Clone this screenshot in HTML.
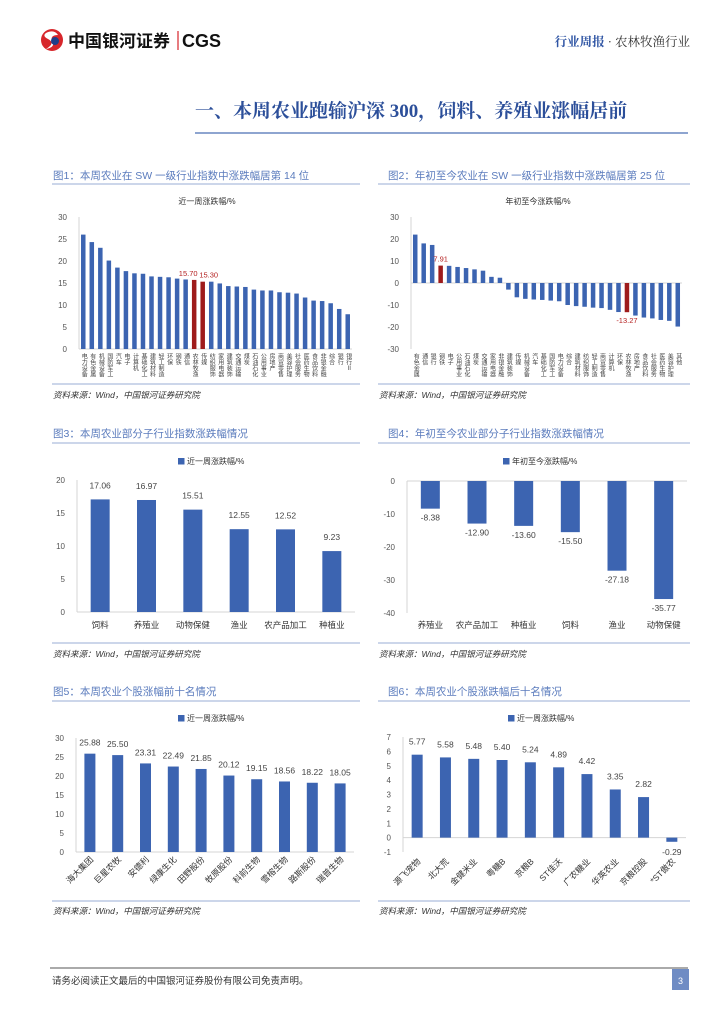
<!DOCTYPE html>
<html><head><meta charset="utf-8">
<style>
html,body{margin:0;padding:0;background:#fff;}
svg{display:block;font-family:"Liberation Sans","Noto Sans CJK SC",sans-serif;}
.cap{font-size:10.5px;fill:#5a7bbd;}
.src{font-size:8.5px;fill:#333;font-style:italic;}
.tk{font-size:8px;fill:#555;}
</style></head>
<body>
<svg id="page" width="724" height="1024" viewBox="0 0 724 1024" xmlns="http://www.w3.org/2000/svg">
  <g>
    <g>
      <circle cx="52" cy="40" r="11" fill="#d7262b"/>
      <path d="M46 33 q8 -4 12 2 q-8 0 -6 6 q4 6 -6 8 q10 -6 2 -10 q-6 -3 -2 -6z" fill="#fff"/>
      <circle cx="55" cy="41" r="4" fill="#1f3f8a"/>
      <text x="68" y="47" font-size="17" font-weight="bold" fill="#111">中国银河证券</text>
      <line x1="178" y1="31" x2="178" y2="50" stroke="#d7262b" stroke-width="1.2"/>
      <text x="182" y="47" font-size="18" font-weight="bold" fill="#111">CGS</text>
    </g>
    <text x="690" y="46" text-anchor="end" font-size="12.5" font-family="Liberation Serif,Noto Serif CJK SC,serif"><tspan fill="#2f55a4" font-weight="bold">行业周报</tspan><tspan fill="#333"> · 农林牧渔行业</tspan></text>
    <text x="195" y="117" font-size="19" font-weight="bold" fill="#2c4f9a" font-family="Liberation Serif,Noto Serif CJK SC,serif">一、本周农业跑输沪深 300，饲料、养殖业涨幅居前</text>
    <line x1="195" y1="133" x2="688" y2="133" stroke="#4a6fb5" stroke-width="1.2"/>
  </g>

  <text class="cap" x="53" y="179">图1：本周农业在 SW 一级行业指数中涨跌幅居第 14 位</text>
  <line x1="52" y1="184" x2="360" y2="184" stroke="#9aaed6" stroke-width="1"/>
  <text class="cap" x="388" y="179">图2：年初至今农业在 SW 一级行业指数中涨跌幅居第 25 位</text>
  <line x1="378" y1="184" x2="690" y2="184" stroke="#9aaed6" stroke-width="1"/>
  <line x1="52" y1="384" x2="360" y2="384" stroke="#9aaed6" stroke-width="1"/>
  <line x1="378" y1="384" x2="690" y2="384" stroke="#9aaed6" stroke-width="1"/>
  <text class="src" x="53" y="398">资料来源：Wind，中国银河证券研究院</text>
  <text class="src" x="379" y="398">资料来源：Wind，中国银河证券研究院</text>

  <text class="cap" x="53" y="437">图3：本周农业部分子行业指数涨跌幅情况</text>
  <line x1="52" y1="443" x2="360" y2="443" stroke="#9aaed6" stroke-width="1"/>
  <text class="cap" x="388" y="437">图4：年初至今农业部分子行业指数涨跌幅情况</text>
  <line x1="378" y1="443" x2="690" y2="443" stroke="#9aaed6" stroke-width="1"/>
  <line x1="52" y1="643" x2="360" y2="643" stroke="#9aaed6" stroke-width="1"/>
  <line x1="378" y1="643" x2="690" y2="643" stroke="#9aaed6" stroke-width="1"/>
  <text class="src" x="53" y="657">资料来源：Wind，中国银河证券研究院</text>
  <text class="src" x="379" y="657">资料来源：Wind，中国银河证券研究院</text>

  <text class="cap" x="53" y="695">图5：本周农业个股涨幅前十名情况</text>
  <line x1="52" y1="701" x2="360" y2="701" stroke="#9aaed6" stroke-width="1"/>
  <text class="cap" x="388" y="695">图6：本周农业个股涨跌幅后十名情况</text>
  <line x1="378" y1="701" x2="690" y2="701" stroke="#9aaed6" stroke-width="1"/>
  <line x1="52" y1="901" x2="360" y2="901" stroke="#9aaed6" stroke-width="1"/>
  <line x1="378" y1="901" x2="690" y2="901" stroke="#9aaed6" stroke-width="1"/>
  <text class="src" x="53" y="914">资料来源：Wind，中国银河证券研究院</text>
  <text class="src" x="379" y="914">资料来源：Wind，中国银河证券研究院</text>

  <g>
    <line x1="50" y1="968" x2="688" y2="968" stroke="#555" stroke-width="1"/>
    <text x="52" y="984" font-size="9.5" fill="#333">请务必阅读正文最后的中国银河证券股份有限公司免责声明。</text>
    <rect x="672" y="969" width="17" height="21" fill="#6f8cc4"/>
    <text x="680.5" y="984" font-size="9" fill="#fff" text-anchor="middle">3</text>
  </g>

  <text x="207" y="204" font-size="8" fill="#333" text-anchor="middle">近一周涨跌幅/%</text>
  <text x="538" y="204" font-size="8" fill="#333" text-anchor="middle">年初至今涨跌幅/%</text>
  <g id="charts"></g>
</svg>
<script>
// ---- Chart 1 data ----
const c1Cats = ["电力设备","有色金属","机械设备","国防军工","汽车","电子","计算机","基础化工","建筑材料","轻工制造","环保","钢铁","通信","农林牧渔","传媒","纺织服饰","家用电器","建筑装饰","交通运输","煤炭","石油石化","公用事业","房地产","商贸零售","美容护理","社会服务","医药生物","食品饮料","非银金融","综合","银行","银行Ⅱ"];
const c1Vals = [26,24.3,23,20.1,18.5,17.7,17.2,17.1,16.5,16.4,16.3,16,15.8,15.70,15.30,15.3,14.9,14.3,14.2,14.1,13.5,13.3,13.3,12.9,12.8,12.6,11.7,11.0,10.9,10.4,9.1,7.9];
const c1Red = [13,14];
const c1Ticks = [0,5,10,15,20,25,30];
// ---- Chart 2 data ----
const c2Cats = ["有色金属","通信","银行","钢铁","电子","公用事业","石油石化","煤炭","交通运输","家用电器","非银金融","建筑装饰","传媒","机械设备","汽车","基础化工","国防军工","电力设备","综合","建筑材料","纺织服饰","轻工制造","商贸零售","计算机","环保","农林牧渔","房地产","食品饮料","社会服务","医药生物","美容护理","其他"];
const c2Vals = [22,18,17.3,7.91,7.8,7.3,6.8,6.2,5.6,2.8,2.4,-3,-6.5,-7.2,-7.5,-7.7,-8,-8.3,-10,-10.5,-10.8,-11.2,-11.4,-12.2,-13.2,-13.27,-14.8,-15.7,-16.1,-16.8,-17.2,-19.8];
const c2Red = [3,25];
const c2Ticks = [-30,-20,-10,0,10,20,30];
// ---- Chart 3 data ----
const c3Cats = ["饲料","养殖业","动物保健","渔业","农产品加工","种植业"];
const c3Vals = [17.06,16.97,15.51,12.55,12.52,9.23];
const c3Ticks = [0,5,10,15,20];
// ---- Chart 4 data ----
const c4Cats = ["养殖业","农产品加工","种植业","饲料","渔业","动物保健"];
const c4Vals = [-8.38,-12.90,-13.60,-15.50,-27.18,-35.77];
const c4Ticks = [-40,-30,-20,-10,0];
// ---- Chart 5 data ----
const c5Cats = ["海大集团","巨星农牧","安德利","绿康生化","田野股份","牧原股份","科前生物","雪榕生物","路斯股份","瑞普生物"];
const c5Vals = [25.88,25.50,23.31,22.49,21.85,20.12,19.15,18.56,18.22,18.05];
const c5Ticks = [0,5,10,15,20,25,30];
// ---- Chart 6 data ----
const c6Cats = ["源飞宠物","北大荒","金健米业","粤糖B","京粮B","ST佳沃","广农糖业","华英农业","京粮控股","*ST傲农"];
const c6Vals = [5.77,5.58,5.48,5.40,5.24,4.89,4.42,3.35,2.82,-0.29];
const c6Ticks = [-1,0,1,2,3,4,5,6,7];

const NS="http://www.w3.org/2000/svg";
const root=document.getElementById('charts');
function mk(tag,attrs,parent){const e=document.createElementNS(NS,tag);for(const k in attrs)e.setAttribute(k,attrs[k]);(parent||root).appendChild(e);return e;}

function chart(o){
  const g=mk('g',{});
  
  
  const y=v=>o.yBot-(v-o.min)/(o.max-o.min)*(o.yBot-o.yTop);
  const band=(o.x1-o.x0)/o.vals.length;
  const cx=i=>o.x0+band*(i+0.5);
  o.ticks.forEach(t=>{
    const tx=mk('text',{x:o.x0-12,y:y(t)+3,'text-anchor':'end',class:'tk'},g);
    tx.textContent=String(t);
    
    
  });
  const ax=mk('line',{x1:o.x0,y1:o.yTop,x2:o.x0,y2:o.yBot,stroke:'#d4d4d4','stroke-width':1},g);
  
  
  const zl=mk('line',{x1:o.x0,y1:y(o.base),x2:o.x1,y2:y(o.base),stroke:'#d4d4d4','stroke-width':1},g);
  
  
  let redCount=0;
  o.vals.forEach((v,i)=>{
    const y0=y(0),y1=y(v);
    const red=o.red&&o.red.indexOf(i)>=0;
    const r=mk('rect',{x:cx(i)-o.barW/2,y:Math.min(y0,y1),width:o.barW,height:Math.abs(y1-y0),fill:red?'#9e1b1b':'#3c64b1'},g);
    
    
    if(o.showVals||red){
      const ly=v>=0?y1-o.lblGap:y1+(o.negGap!==undefined?o.negGap:o.lblGap+7);
      let lx=cx(i);
      if(red&&o.redShift){lx+=o.redShift[redCount];redCount++;}
      const t=mk('text',{x:lx,y:ly,'text-anchor':'middle','font-size':o.lblSize,fill:red?'#b52222':'#444'},g);
      t.textContent=v.toFixed(2);
      
      
    }
    let c;
    if(o.catMode==='vert'){
      c=mk('text',{x:cx(i),y:o.catY,'font-size':6,fill:'#444','writing-mode':'tb','style':'writing-mode:vertical-rl;letter-spacing:0'},g);
    }else if(o.catMode==='rot'){
      c=mk('text',{x:cx(i)+4,y:o.catY,'font-size':8.5,fill:'#333','text-anchor':'end',transform:'rotate(-45 '+(cx(i)+4)+' '+o.catY+')'},g);
    }else{
      c=mk('text',{x:cx(i),y:o.catY,'font-size':8.5,fill:'#333','text-anchor':'middle'},g);
    }
    c.textContent=o.cats[i];
    
    
  });
  if(o.legend){
    const lr=mk('rect',{x:o.legend[0],y:o.legend[1]-6,width:6.5,height:6.5,fill:'#3c64b1'},g);
    
    
    const lt=mk('text',{x:o.legend[0]+9,y:o.legend[1],'font-size':8,fill:'#333'},g);
    lt.textContent=o.legendText;
    
    
  }
}
chart({name:'chart1',cats:c1Cats,vals:c1Vals,red:c1Red,redShift:[-6,6],ticks:c1Ticks,min:0,max:30,base:0,x0:79,x1:352,yTop:217,yBot:349,barW:4.5,lblGap:4,lblSize:7.5,catMode:'vert',catY:353});
chart({name:'chart2',cats:c2Cats,vals:c2Vals,red:c2Red,ticks:c2Ticks,min:-30,max:30,base:0,x0:411,x1:682,yTop:217,yBot:349,barW:4.5,lblGap:4,lblSize:7.5,catMode:'vert',catY:353});
chart({name:'chart3',cats:c3Cats,vals:c3Vals,ticks:c3Ticks,min:0,max:20,base:0,x0:77,x1:355,yTop:480,yBot:612,barW:19,showVals:true,lblGap:11,lblSize:8.5,catMode:'h',catY:628,legend:[178,464],legendText:'近一周涨跌幅/%'});
chart({name:'chart4',cats:c4Cats,vals:c4Vals,ticks:c4Ticks,min:-40,max:0,base:0,x0:407,x1:687,yTop:481,yBot:613,barW:19,showVals:true,lblGap:5,lblSize:8.5,catMode:'h',catY:628,legend:[503,464],legendText:'年初至今涨跌幅/%'});
chart({name:'chart5',cats:c5Cats,vals:c5Vals,ticks:c5Ticks,min:0,max:30,base:0,x0:76,x1:354,yTop:738,yBot:852,barW:11,showVals:true,lblGap:8,lblSize:8.5,catMode:'rot',catY:860,legend:[178,721],legendText:'近一周涨跌幅/%'});
chart({name:'chart6',cats:c6Cats,vals:c6Vals,ticks:c6Ticks,min:-1,max:7,base:0,x0:403,x1:686,yTop:737,yBot:852,barW:11,showVals:true,lblGap:10,negGap:13,lblSize:8.5,catMode:'rot',catY:862,legend:[508,721],legendText:'近一周涨跌幅/%'});
</script>
</body></html>
